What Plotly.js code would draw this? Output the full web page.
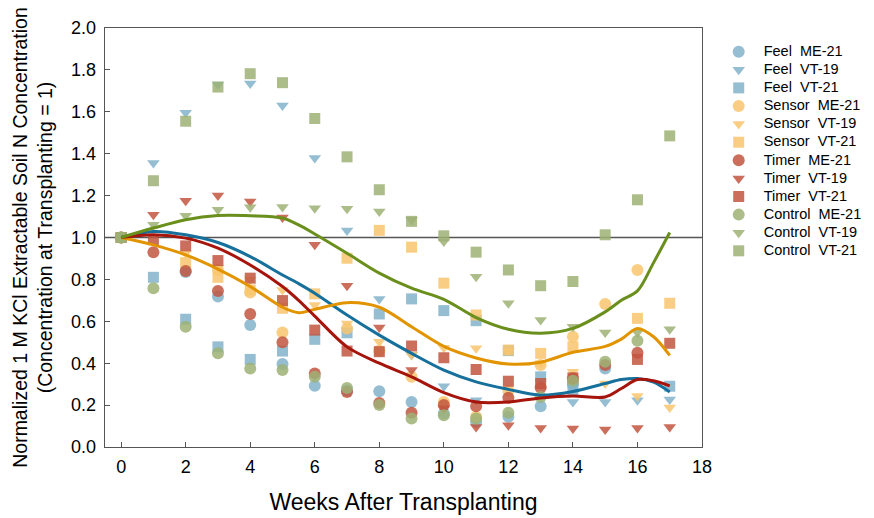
<!DOCTYPE html>
<html>
<head>
<meta charset="utf-8">
<script src="https://cdn.plot.ly/plotly-3.0.1.min.js"></script>
<style>
html,body{margin:0;padding:0;background:#fff;}
#chart{width:874px;height:518px;}
#chart .legend .legendtext{font-size:14.5px !important;}
#chart .legend .scrollbox{clip-path:none !important;}
</style>
</head>
<body>
<div id="chart"></div>
<script>
// ---- Data ----
const weeks = [0,1,2,3,4,5,6,7,8,9,10,11,12,13,14,15,16,17];

const feelME21    = [1.0, null, 0.835, 0.718, 0.582, 0.396, 0.292, 0.27, 0.266, 0.215, 0.16, 0.12, 0.144, 0.195, 0.30, 0.375, null, null];
const feelVT19    = [1.0, 1.356, 1.595, 1.73, 1.735, 1.63, 1.38, 1.034, 0.707, 0.439, 0.29, 0.223, null, null, 0.215, 0.215, 0.223, 0.227];
const feelVT21    = [1.0, 0.81, 0.61, 0.478, 0.418, 0.458, 0.514, 0.545, 0.635, 0.707, 0.651, 0.603, 0.46, 0.335, 0.275, null, null, 0.29];

const sensorME21  = [1.0, null, null, 0.845, 0.737, 0.547, null, 0.566, 0.46, 0.335, 0.215, 0.144, 0.268, 0.391, 0.526, 0.683, 0.845, null];
const sensorVT19  = [1.0, null, 0.925, 0.855, 0.80, 0.75, 0.678, 0.59, 0.502, 0.44, 0.474, 0.471, 0.46, 0.40, 0.359, 0.303, 0.243, 0.188];
const sensorVT21  = [1.0, null, 0.88, 0.81, 0.75, 0.662, 0.731, 0.901, 1.034, 0.954, 0.782, 0.63, 0.463, 0.447, 0.478, null, 0.614, 0.686];

const timerME21   = [1.0, 0.93, 0.84, 0.745, 0.635, 0.50, 0.351, 0.263, 0.21, 0.163, 0.2, 0.195, 0.235, 0.284, 0.327, 0.391, 0.45, null];
const timerVT19   = [1.0, 1.109, 1.176, 1.20, 1.172, 1.096, 0.965, 0.77, 0.571, 0.367, 0.184, 0.096, 0.104, 0.091, 0.088, 0.083, 0.091, 0.096];
const timerVT21   = [1.0, 0.99, 0.96, 0.89, 0.806, 0.699, 0.558, 0.458, 0.455, 0.482, 0.426, 0.37, 0.314, 0.303, 0.33, null, 0.418, 0.495];

const controlME21 = [1.0, 0.758, 0.574, 0.447, 0.375, 0.367, 0.335, 0.282, 0.20, 0.136, 0.152, 0.136, 0.163, 0.239, 0.316, 0.407, 0.507, null];
const controlVT19 = [1.0, 1.061, 1.104, 1.133, 1.144, 1.145, 1.14, 1.137, 1.124, 1.085, 0.981, 0.813, 0.686, 0.606, 0.574, 0.546, 0.546, 0.562];
const controlVT21 = [1.0, 1.271, 1.555, 1.718, 1.782, 1.739, 1.568, 1.385, 1.228, 1.077, 1.008, 0.93, 0.845, 0.77, 0.79, 1.013, 1.18, 1.485];

// fitted trend curves
const fitWeeks   = [0,1,2,3,4,5,5.5,6,7,8,9,10,11,12,13,14,15,15.5,16,16.5,17];
const feelFit    = [1.0,1.029,1.013,0.976,0.909,0.821,0.78,0.734,0.63,0.534,0.447,0.367,0.311,0.275,0.247,0.265,0.303,0.322,0.327,0.31,0.263];
const sensorFit  = [1.0,0.965,0.917,0.849,0.766,0.667,0.641,0.657,0.689,0.667,0.574,0.48,0.425,0.396,0.405,0.452,0.48,0.515,0.566,0.526,0.437];
const timerFit   = [1.0,1.013,0.997,0.949,0.869,0.766,0.70,0.625,0.478,0.40,0.335,0.26,0.215,0.215,0.234,0.243,0.239,0.279,0.322,0.316,0.292];
const controlFit = [1.0,1.045,1.085,1.105,1.104,1.093,1.06,1.017,0.925,0.83,0.758,0.705,0.618,0.562,0.543,0.566,0.645,0.70,0.745,0.88,1.024];

const xTicks = [0,2,4,6,8,10,12,14,16,18];
const yTicks = [0,0.2,0.4,0.6,0.8,1.0,1.2,1.4,1.6,1.8,2.0];

// ---- Styles ----
const colFeel = '#82b3cb', colSensor = '#f8c66e', colTimer = '#c2563f', colControl = '#9db276';
const lineFeel = '#16709b', lineSensor = '#e29400', lineTimer = '#a5150b', lineControl = '#6a8f1c';
const FONT = 'Liberation Sans, Arial, sans-serif';

function pts(name, y, color, symbol){
  const size = symbol === 'circle' ? 12 : 11;
  return {x: weeks, y: y, name: name, type: 'scatter', mode: 'markers',
    marker: {color: color, symbol: symbol, size: size, opacity: 0.85, line: {width: 0}}};
}
function fit(y, color){
  return {x: fitWeeks, y: y, type: 'scatter', mode: 'lines', showlegend: false, hoverinfo: 'skip',
    line: {color: color, width: 3, shape: 'spline', smoothing: 0.9}};
}
const S = '\u00a0\u00a0';
const data = [
  pts('Feel'+S+'ME-21', feelME21, colFeel, 'circle'),
  pts('Feel'+S+'VT-19', feelVT19, colFeel, 'triangle-down'),
  pts('Feel'+S+'VT-21', feelVT21, colFeel, 'square'),
  pts('Sensor'+S+'ME-21', sensorME21, colSensor, 'circle'),
  pts('Sensor'+S+'VT-19', sensorVT19, colSensor, 'triangle-down'),
  pts('Sensor'+S+'VT-21', sensorVT21, colSensor, 'square'),
  pts('Timer'+S+'ME-21', timerME21, colTimer, 'circle'),
  pts('Timer'+S+'VT-19', timerVT19, colTimer, 'triangle-down'),
  pts('Timer'+S+'VT-21', timerVT21, colTimer, 'square'),
  pts('Control'+S+'ME-21', controlME21, colControl, 'circle'),
  pts('Control'+S+'VT-19', controlVT19, colControl, 'triangle-down'),
  pts('Control'+S+'VT-21', controlVT21, colControl, 'square'),
  fit(feelFit, lineFeel),
  fit(sensorFit, lineSensor),
  fit(timerFit, lineTimer),
  fit(controlFit, lineControl)
];

const axisCommon = {
  showline: true, linecolor: '#555', linewidth: 1.3, mirror: true,
  ticks: 'inside', ticklen: 5, tickcolor: '#555', tickwidth: 1,
  showgrid: false, zeroline: false,
  tickfont: {family: FONT, size: 18, color: '#000'}
};

const layout = {
  width: 874, height: 518,
  margin: {l: 105, r: 172, t: 28, b: 71},
  paper_bgcolor: '#fff', plot_bgcolor: '#fff',
  font: {family: FONT, color: '#000'},
  xaxis: Object.assign({}, axisCommon, {
    range: [-0.5, 18], tickvals: xTicks, ticktext: xTicks.map(String),
    ticklabelstandoff: 3,
    title: {text: 'Weeks After Transplanting', font: {family: FONT, size: 23, color: '#000'}, standoff: 18}
  }),
  yaxis: Object.assign({}, axisCommon, {
    range: [0, 2], tickvals: yTicks, ticktext: yTicks.map(v => v.toFixed(1)),
    ticklabelstandoff: 4,
    title: {text: 'Normalized 1 M KCl Extractable Soil N Concentration<br>(Concentration at Transplanting = 1)',
            font: {family: FONT, size: 19.5, color: '#000'}, standoff: 13}
  }),
  shapes: [{type: 'line', xref: 'paper', x0: 0, x1: 1, yref: 'y', y0: 1, y1: 1,
            line: {color: '#555', width: 1.5}, layer: 'below'}],
  legend: {x: 1.0196, xanchor: 'left', y: 0.978, yanchor: 'top',
           font: {family: FONT, size: 10.85, color: '#000'}, itemwidth: 40,
           bgcolor: 'rgba(0,0,0,0)', borderwidth: 0, tracegroupgap: 0},
  showlegend: true
};

Plotly.newPlot('chart', data, layout, {displayModeBar: false, staticPlot: true}).then(function(gd){
  // tighten legend row spacing to match the reference (18 px per entry)
  const items = gd.querySelectorAll('.legend .traces');
  if (!items.length) return;
  const m = /translate\(\s*([-\d.]+)[ ,]+([-\d.]+)\s*\)/.exec(items[0].getAttribute('transform') || '');
  if (!m) return;
  const x0 = parseFloat(m[1]), y0 = parseFloat(m[2]);
  items.forEach(function(el, i){
    el.setAttribute('transform', 'translate(' + x0 + ',' + (y0 + i * 18.1) + ')');
  });
});
</script>
</body>
</html>
